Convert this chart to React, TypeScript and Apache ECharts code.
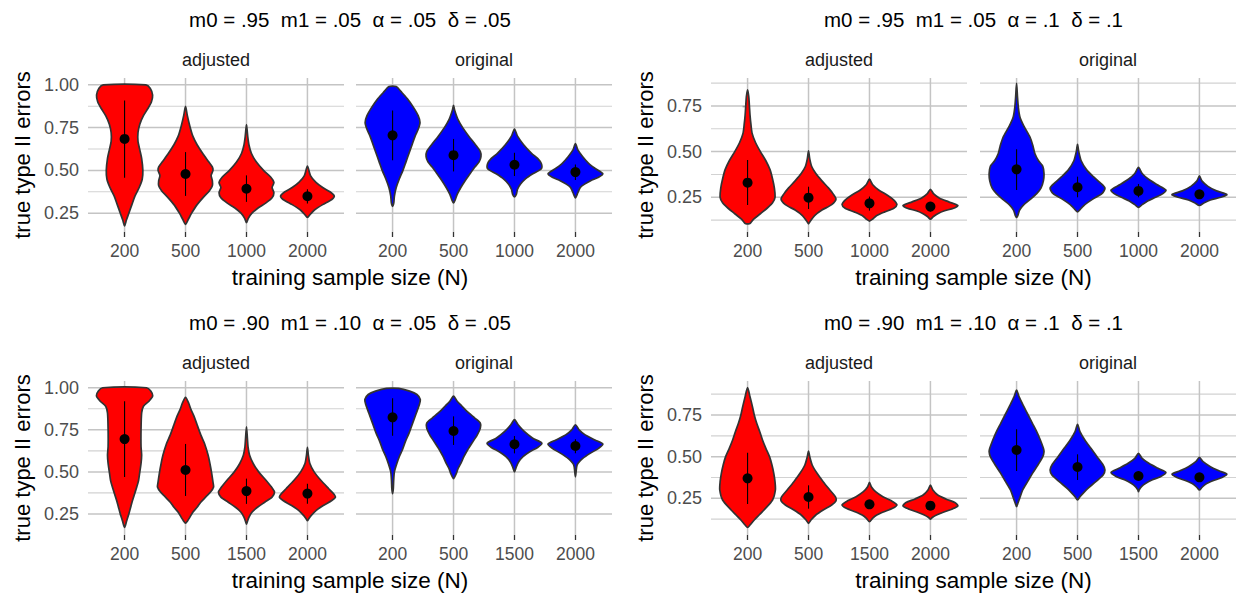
import React, { useEffect, useRef } from "react";
import * as echarts from "echarts";

// ---------- categories, titles, ticks ----------
const catsTop = ["200", "500", "1000", "2000"];
const catsBottom = ["200", "500", "1500", "2000"];
const facetNames = ["adjusted", "original"];
const panelTitles = [
  "m0 = .95  m1 = .05  α = .05  δ = .05",
  "m0 = .95  m1 = .05  α = .1  δ = .1",
  "m0 = .90  m1 = .10  α = .05  δ = .05",
  "m0 = .90  m1 = .10  α = .1  δ = .1",
];
const xTitle = "training sample size (N)";
const yTitle = "true type II errors";
const ticksLeft = [0.25, 0.5, 0.75, 1.0];
const minorLeft = [0.375, 0.625, 0.875];
const ticksRight = [0.25, 0.5, 0.75];
const minorRight = [0.125, 0.375, 0.625, 0.875];

// ---------- violin profiles: [value, half width in category units] ----------
// Panel A (m0=.95, α=.05)
const aAdj200 = [[1.0,0.35],[0.98,0.42],[0.94,0.46],[0.90,0.44],[0.86,0.38],[0.82,0.31],[0.77,0.25],[0.72,0.22],[0.67,0.22],[0.62,0.25],[0.57,0.28],[0.50,0.30],[0.45,0.29],[0.40,0.24],[0.35,0.17],[0.30,0.12],[0.25,0.07],[0.21,0.03],[0.176,0]];
const aAdj500 = [[0.874,0],[0.82,0.03],[0.76,0.07],[0.70,0.12],[0.65,0.19],[0.60,0.28],[0.55,0.38],[0.52,0.44],[0.50,0.45],[0.47,0.42],[0.44,0.44],[0.41,0.44],[0.38,0.39],[0.35,0.31],[0.30,0.19],[0.25,0.10],[0.21,0.04],[0.185,0]];
const aAdj1000 = [[0.767,0],[0.70,0.02],[0.65,0.04],[0.60,0.08],[0.55,0.16],[0.50,0.28],[0.46,0.40],[0.43,0.45],[0.40,0.42],[0.37,0.45],[0.34,0.42],[0.31,0.32],[0.28,0.19],[0.25,0.09],[0.22,0.03],[0.195,0]];
const aAdj2000 = [[0.525,0],[0.47,0.05],[0.43,0.14],[0.40,0.25],[0.375,0.37],[0.35,0.44],[0.33,0.40],[0.30,0.25],[0.27,0.12],[0.245,0.05],[0.225,0]];
const aOrg200 = [[0.99,0.06],[0.96,0.14],[0.92,0.24],[0.87,0.34],[0.82,0.42],[0.78,0.45],[0.74,0.42],[0.70,0.37],[0.65,0.32],[0.60,0.27],[0.55,0.22],[0.50,0.17],[0.45,0.11],[0.40,0.06],[0.35,0.03],[0.31,0.02],[0.29,0]];
const aOrg500 = [[0.88,0],[0.85,0.02],[0.80,0.07],[0.75,0.15],[0.70,0.25],[0.65,0.36],[0.61,0.44],[0.58,0.45],[0.55,0.42],[0.52,0.35],[0.48,0.27],[0.44,0.19],[0.40,0.12],[0.36,0.06],[0.33,0.03],[0.31,0]];
const aOrg1000 = [[0.742,0],[0.70,0.05],[0.65,0.15],[0.60,0.28],[0.57,0.38],[0.54,0.44],[0.51,0.44],[0.48,0.30],[0.45,0.18],[0.42,0.10],[0.39,0.05],[0.36,0.03],[0.345,0]];
const aOrg2000 = [[0.657,0],[0.62,0.04],[0.58,0.12],[0.54,0.22],[0.51,0.33],[0.48,0.45],[0.46,0.38],[0.44,0.25],[0.42,0.15],[0.40,0.08],[0.37,0.04],[0.34,0]];
const aAdjMean = [0.684, 0.479, 0.393, 0.349];
const aAdjLo = [0.457, 0.351, 0.316, 0.306];
const aAdjHi = [0.909, 0.607, 0.471, 0.39];
const aOrgMean = [0.705, 0.589, 0.533, 0.49];
const aOrgLo = [0.56, 0.494, 0.467, 0.444];
const aOrgHi = [0.85, 0.684, 0.603, 0.535];

// Panel B (m0=.95, α=.1)
const bAdj200 = [[0.838,0],[0.80,0.02],[0.75,0.03],[0.70,0.04],[0.65,0.055],[0.60,0.075],[0.55,0.13],[0.50,0.21],[0.45,0.30],[0.40,0.37],[0.35,0.41],[0.30,0.44],[0.25,0.45],[0.22,0.41],[0.19,0.32],[0.16,0.21],[0.13,0.10],[0.11,0.05],[0.105,0.03]];
const bAdj500 = [[0.504,0],[0.46,0.02],[0.42,0.05],[0.38,0.12],[0.34,0.22],[0.30,0.33],[0.27,0.40],[0.24,0.45],[0.21,0.38],[0.18,0.22],[0.15,0.10],[0.12,0.03],[0.105,0]];
const bAdj1000 = [[0.349,0],[0.32,0.05],[0.29,0.15],[0.26,0.30],[0.235,0.40],[0.21,0.45],[0.19,0.40],[0.17,0.25],[0.15,0.12],[0.13,0.05],[0.12,0]];
const bAdj2000 = [[0.294,0],[0.27,0.05],[0.245,0.15],[0.225,0.30],[0.205,0.45],[0.19,0.38],[0.175,0.22],[0.16,0.12],[0.145,0.05],[0.13,0]];
const bOrg200 = [[0.874,0],[0.80,0.015],[0.74,0.03],[0.69,0.055],[0.64,0.12],[0.58,0.22],[0.53,0.27],[0.49,0.30],[0.45,0.36],[0.42,0.43],[0.38,0.45],[0.34,0.44],[0.30,0.40],[0.27,0.33],[0.24,0.23],[0.21,0.12],[0.18,0.05],[0.15,0.02],[0.14,0]];
const bOrg500 = [[0.54,0],[0.50,0.02],[0.45,0.06],[0.40,0.15],[0.36,0.27],[0.33,0.37],[0.30,0.45],[0.27,0.40],[0.24,0.25],[0.21,0.12],[0.19,0.06],[0.17,0]];
const bOrg1000 = [[0.414,0],[0.38,0.06],[0.35,0.16],[0.32,0.30],[0.29,0.45],[0.27,0.40],[0.25,0.28],[0.23,0.15],[0.21,0.06],[0.195,0]];
const bOrg2000 = [[0.367,0],[0.34,0.04],[0.31,0.14],[0.285,0.28],[0.265,0.45],[0.25,0.35],[0.235,0.18],[0.22,0.08],[0.205,0]];
const bAdjMean = [0.33, 0.248, 0.217, 0.199];
const bAdjLo = [0.208, 0.186, 0.177, 0.171];
const bAdjHi = [0.454, 0.308, 0.254, 0.22];
const bOrgMean = [0.403, 0.305, 0.285, 0.266];
const bOrgLo = [0.29, 0.25, 0.25, 0.24];
const bOrgHi = [0.513, 0.363, 0.323, 0.29];

// Panel C (m0=.90, α=.05)
const cAdj200 = [[1.0,0.36],[0.98,0.43],[0.95,0.46],[0.92,0.40],[0.89,0.31],[0.85,0.28],[0.75,0.27],[0.65,0.27],[0.60,0.28],[0.55,0.27],[0.50,0.25],[0.45,0.23],[0.41,0.20],[0.37,0.165],[0.33,0.13],[0.29,0.10],[0.25,0.07],[0.21,0.035],[0.17,0]];
const cAdj500 = [[0.943,0],[0.91,0.05],[0.87,0.09],[0.83,0.14],[0.78,0.19],[0.72,0.25],[0.67,0.31],[0.60,0.37],[0.55,0.40],[0.49,0.43],[0.44,0.45],[0.41,0.46],[0.38,0.41],[0.35,0.33],[0.32,0.25],[0.29,0.19],[0.26,0.12],[0.23,0.07],[0.21,0.035],[0.195,0]];
const cAdj1500 = [[0.768,0],[0.70,0.015],[0.65,0.025],[0.60,0.05],[0.55,0.11],[0.50,0.20],[0.45,0.32],[0.40,0.43],[0.38,0.46],[0.35,0.42],[0.32,0.30],[0.29,0.18],[0.26,0.09],[0.23,0.04],[0.20,0.01],[0.19,0]];
const cAdj2000 = [[0.646,0],[0.60,0.015],[0.55,0.04],[0.50,0.11],[0.45,0.22],[0.40,0.35],[0.37,0.43],[0.35,0.46],[0.33,0.40],[0.30,0.26],[0.27,0.14],[0.24,0.06],[0.22,0.02],[0.21,0]];
const cOrg200 = [[0.996,0.10],[0.98,0.28],[0.96,0.40],[0.93,0.455],[0.90,0.44],[0.85,0.39],[0.80,0.34],[0.73,0.27],[0.68,0.21],[0.63,0.16],[0.59,0.11],[0.55,0.07],[0.50,0.03],[0.45,0.018],[0.40,0.012],[0.37,0]];
const cOrg500 = [[0.95,0],[0.92,0.06],[0.89,0.14],[0.85,0.25],[0.82,0.35],[0.79,0.44],[0.76,0.44],[0.72,0.39],[0.67,0.30],[0.63,0.23],[0.59,0.17],[0.55,0.12],[0.52,0.075],[0.49,0.045],[0.46,0]];
const cOrg1500 = [[0.81,0],[0.78,0.06],[0.74,0.16],[0.70,0.30],[0.67,0.45],[0.645,0.38],[0.62,0.25],[0.59,0.14],[0.56,0.07],[0.53,0.03],[0.50,0]];
const cOrg2000 = [[0.78,0],[0.75,0.06],[0.72,0.16],[0.69,0.32],[0.665,0.45],[0.64,0.38],[0.61,0.24],[0.58,0.12],[0.55,0.04],[0.53,0.02],[0.47,0]];
const cAdjMean = [0.695, 0.511, 0.386, 0.371];
const cAdjLo = [0.47, 0.357, 0.31, 0.31];
const cAdjHi = [0.92, 0.666, 0.46, 0.43];
const cOrgMean = [0.824, 0.743, 0.664, 0.654];
const cOrgLo = [0.715, 0.66, 0.61, 0.61];
const cOrgHi = [0.937, 0.83, 0.713, 0.694];

// Panel D (m0=.90, α=.1)
const dAdj200 = [[0.914,0],[0.86,0.04],[0.80,0.08],[0.75,0.11],[0.70,0.15],[0.65,0.20],[0.60,0.245],[0.55,0.30],[0.50,0.36],[0.45,0.40],[0.40,0.43],[0.35,0.45],[0.30,0.456],[0.24,0.41],[0.18,0.27],[0.15,0.19],[0.12,0.11],[0.09,0.04],[0.075,0]];
const dAdj500 = [[0.534,0],[0.50,0.02],[0.45,0.06],[0.40,0.14],[0.35,0.24],[0.30,0.35],[0.26,0.44],[0.235,0.45],[0.21,0.38],[0.18,0.24],[0.15,0.12],[0.12,0.04],[0.10,0]];
const dAdj1500 = [[0.346,0],[0.32,0.03],[0.29,0.10],[0.26,0.22],[0.235,0.36],[0.21,0.45],[0.19,0.38],[0.17,0.24],[0.15,0.12],[0.13,0.05],[0.11,0]];
const dAdj2000 = [[0.33,0],[0.30,0.04],[0.27,0.12],[0.245,0.26],[0.225,0.40],[0.205,0.45],[0.185,0.35],[0.165,0.20],[0.15,0.10],[0.135,0.03],[0.125,0]];
const dOrg200 = [[0.90,0],[0.86,0.04],[0.80,0.12],[0.75,0.19],[0.70,0.26],[0.65,0.33],[0.60,0.39],[0.55,0.44],[0.53,0.45],[0.50,0.43],[0.45,0.35],[0.40,0.26],[0.35,0.18],[0.30,0.10],[0.25,0.05],[0.22,0.02],[0.20,0]];
const dOrg500 = [[0.694,0],[0.65,0.04],[0.60,0.12],[0.55,0.22],[0.50,0.32],[0.45,0.42],[0.42,0.45],[0.39,0.42],[0.35,0.30],[0.31,0.17],[0.28,0.09],[0.26,0.04],[0.24,0]];
const dOrg1500 = [[0.52,0],[0.49,0.06],[0.46,0.17],[0.43,0.32],[0.405,0.45],[0.38,0.36],[0.36,0.22],[0.34,0.12],[0.32,0.05],[0.30,0.01],[0.29,0]];
const dOrg2000 = [[0.496,0],[0.47,0.06],[0.44,0.18],[0.415,0.32],[0.395,0.45],[0.375,0.37],[0.355,0.22],[0.335,0.10],[0.315,0.04],[0.30,0]];
const dAdjMean = [0.37, 0.258, 0.214, 0.206];
const dAdjLo = [0.216, 0.188, 0.19, 0.185];
const dAdjHi = [0.524, 0.328, 0.24, 0.228];
const dOrgMean = [0.54, 0.438, 0.384, 0.376];
const dOrgLo = [0.414, 0.36, 0.36, 0.355];
const dOrgHi = [0.664, 0.514, 0.41, 0.40];

// ---------- assemble ----------
const panelCats = [catsTop, catsTop, catsBottom, catsBottom];
const panelYRange = [[0.14, 1.04], [0.06, 0.903], [0.125, 1.04], [0.03, 0.954]];
const panelTicks = [ticksLeft, ticksRight, ticksLeft, ticksRight];
const panelMinor = [minorLeft, minorRight, minorLeft, minorRight];
const facetProfiles = [
  [[aAdj200, aAdj500, aAdj1000, aAdj2000], [aOrg200, aOrg500, aOrg1000, aOrg2000]],
  [[bAdj200, bAdj500, bAdj1000, bAdj2000], [bOrg200, bOrg500, bOrg1000, bOrg2000]],
  [[cAdj200, cAdj500, cAdj1500, cAdj2000], [cOrg200, cOrg500, cOrg1500, cOrg2000]],
  [[dAdj200, dAdj500, dAdj1500, dAdj2000], [dOrg200, dOrg500, dOrg1500, dOrg2000]],
];
const facetMeans = [[aAdjMean, aOrgMean], [bAdjMean, bOrgMean], [cAdjMean, cOrgMean], [dAdjMean, dOrgMean]];
const facetLo = [[aAdjLo, aOrgLo], [bAdjLo, bOrgLo], [cAdjLo, cOrgLo], [dAdjLo, dOrgLo]];
const facetHi = [[aAdjHi, aOrgHi], [bAdjHi, bOrgHi], [cAdjHi, cOrgHi], [dAdjHi, dOrgHi]];
const facetColors = ["#ff0000", "#0000ff"];

const FONT = "'Liberation Sans', Arial, Helvetica, sans-serif";
const ROW_TOP = [78, 381];
const PLOT_H = 154;
const FACET_W = 256;
const FACET_LEFT = [[88, 356], [711, 980]];

function buildOption() {
  const grid: any[] = [];
  const xAxis: any[] = [];
  const yAxis: any[] = [];
  const series: any[] = [];
  const graphic: any[] = [];

  for (let p = 0; p < 4; p++) {
    const row = p >> 1;
    const col = p & 1;
    const cats = panelCats[p];
    const top = ROW_TOP[row];
    const lefts = FACET_LEFT[col];
    const panelCenter = (lefts[0] + lefts[1] + FACET_W) / 2;

    graphic.push({
      type: "text", x: panelCenter, y: top - 59,
      style: { text: panelTitles[p], fill: "#000", fontSize: 20.5, fontFamily: FONT, align: "center", verticalAlign: "middle" },
    });
    graphic.push({
      type: "text", x: panelCenter, y: top + PLOT_H + 45,
      style: { text: xTitle, fill: "#000", fontSize: 22.5, fontFamily: FONT, align: "center", verticalAlign: "middle" },
    });
    graphic.push({
      type: "text", x: lefts[0] - 66, y: top + PLOT_H / 2, rotation: Math.PI / 2,
      style: { text: yTitle, fill: "#000", fontSize: 22, fontFamily: FONT, align: "center", verticalAlign: "middle" },
    });

    for (let f = 0; f < 2; f++) {
      const gi = p * 2 + f;
      const left = lefts[f];
      grid.push({ left, top, width: FACET_W, height: PLOT_H, containLabel: false, outerBoundsMode: "none" });
      graphic.push({
        type: "text", x: left + FACET_W / 2, y: top - 18,
        style: { text: facetNames[f], fill: "#1a1a1a", fontSize: 18, fontFamily: FONT, align: "center", verticalAlign: "middle" },
      });
      const catIdx = cats.map((_, i) => i);
      xAxis.push({
        gridIndex: gi, type: "value", min: -0.6, max: 3.6,
        axisLine: { show: false }, splitLine: { show: false },
        axisTick: { show: true, length: 5, customValues: catIdx, lineStyle: { color: "#333333", width: 1.3 } },
        axisLabel: {
          show: true, customValues: catIdx, margin: 10,
          formatter: (v: number) => cats[Math.round(v)] ?? "",
          color: "#4d4d4d", fontSize: 17.5, fontFamily: FONT,
        },
      });
      const isLeft = f === 0;
      const ticks = panelTicks[p];
      yAxis.push({
        gridIndex: gi, type: "value", min: panelYRange[p][0], max: panelYRange[p][1],
        axisLine: { show: false }, splitLine: { show: false },
        axisTick: { show: isLeft, length: 5, customValues: ticks, lineStyle: { color: "#333333", width: 1.3 } },
        axisLabel: {
          show: isLeft, customValues: ticks, margin: 9,
          formatter: (v: number) => v.toFixed(2),
          color: "#4d4d4d", fontSize: 18, fontFamily: FONT,
        },
      });

      // gridlines
      const gridData: number[][] = [
        ...panelMinor[p].map((v) => [1, v]),
        ...ticks.map((v) => [0, v]),
        ...catIdx.map((i) => [2, i]),
      ];
      series.push({
        type: "custom", xAxisIndex: gi, yAxisIndex: gi, z: 1, silent: true,
        data: gridData,
        renderItem: (params: any, api: any) => {
          const cs = params.coordSys;
          const kind = api.value(0);
          const val = api.value(1);
          if (kind < 2) {
            const y = api.coord([0, val])[1];
            return {
              type: "line",
              shape: { x1: cs.x, y1: y, x2: cs.x + cs.width, y2: y },
              style: { stroke: kind === 0 ? "#c4c4c4" : "#d2d2d2", lineWidth: kind === 0 ? 1.5 : 1.1 },
            };
          }
          const x = api.coord([val, 0.5])[0];
          return {
            type: "line",
            shape: { x1: x, y1: cs.y, x2: x, y2: cs.y + cs.height },
            style: { stroke: "#c4c4c4", lineWidth: 1.5 },
          };
        },
      });

      // violins + range lines
      const profs = facetProfiles[p][f];
      const means = facetMeans[p][f];
      const lo = facetLo[p][f];
      const hi = facetHi[p][f];
      const fill = facetColors[f];
      series.push({
        type: "custom", xAxisIndex: gi, yAxisIndex: gi, z: 2, silent: true,
        data: means.map((m, i) => [i, m]),
        renderItem: (params: any, api: any) => {
          const i = params.dataIndex;
          const prof = profs[i];
          const cx = api.value(0);
          const pts: number[][] = [];
          for (let k = 0; k < prof.length; k++) {
            pts.push(api.coord([cx + prof[k][1], prof[k][0]]));
          }
          for (let k = prof.length - 1; k >= 0; k--) {
            if (prof[k][1] === 0) continue;
            pts.push(api.coord([cx - prof[k][1], prof[k][0]]));
          }
          const a = api.coord([cx, lo[i]]);
          const b = api.coord([cx, hi[i]]);
          return {
            type: "group",
            children: [
              { type: "polygon", shape: { points: pts, smooth: 0.25 }, style: { fill, stroke: "#333333", lineWidth: 1.7 } },
              { type: "line", shape: { x1: a[0], y1: a[1], x2: b[0], y2: b[1] }, style: { stroke: "#000000", lineWidth: 1.1 } },
            ],
          };
        },
      });

      // mean points
      series.push({
        type: "scatter", xAxisIndex: gi, yAxisIndex: gi, z: 4, silent: true,
        symbol: "circle", symbolSize: 10, itemStyle: { color: "#000000", opacity: 1 },
        data: means.map((m, i) => [i, m]),
      });
    }
  }

  return {
    animation: false,
    backgroundColor: "#ffffff",
    textStyle: { fontFamily: FONT },
    grid, xAxis, yAxis, series, graphic,
  };
}

export default function App() {
  const ref = useRef<HTMLDivElement>(null);
  useEffect(() => {
    if (!ref.current) return;
    const chart = echarts.init(ref.current, undefined, { renderer: "svg" });
    chart.setOption(buildOption() as any);
    return () => chart.dispose();
  }, []);
  return (
    <div
      ref={ref}
      style={{ position: "fixed", left: 0, top: 0, width: 1238, height: 597, background: "#ffffff" }}
    />
  );
}
